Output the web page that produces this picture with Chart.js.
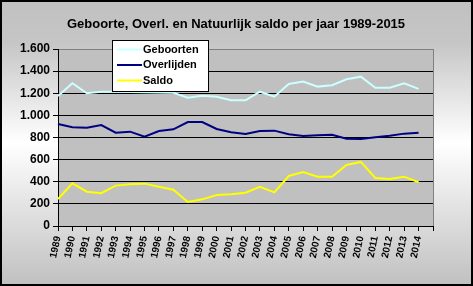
<!DOCTYPE html>
<html>
<head>
<meta charset="utf-8">
<script src="https://cdn.jsdelivr.net/npm/chart.js@4/dist/chart.umd.min.js"></script>
<style>
  html, body { margin: 0; padding: 0; background: #fff; }
  #wrap { width: 473px; height: 286px; position: relative; }
</style>
</head>
<body>
<div id="wrap"><canvas id="myChart"></canvas></div>
<script>
const jaren = ['1989','1990','1991','1992','1993','1994','1995','1996','1997','1998','1999','2000','2001',
               '2002','2003','2004','2005','2006','2007','2008','2009','2010','2011','2012','2013','2014']
const geboorten = [1175, 1290, 1200, 1214, 1214, 1212, 1208, 1206, 1205, 1160, 1178, 1169, 1136,
                   1136, 1214, 1169, 1284, 1305, 1260, 1272, 1326, 1350, 1250, 1250, 1290, 1239]
const overlijden = [922, 892, 889, 913, 844, 853, 807, 859, 874, 940, 940, 877, 847,
                    832, 859, 862, 829, 814, 820, 825, 789, 786, 802, 816, 835, 844]
const saldo = [244, 386, 310, 296, 365, 377, 383, 355, 328, 217, 241, 280, 286,
               301, 355, 304, 452, 488, 446, 446, 552, 579, 434, 425, 446, 395]
const yTickLabels = ['0', '200', '400', '600', '800', '1.000', '1.200', '1.400', '1.600']
const titel = 'Geboorte, Overl. en Natuurlijk saldo per jaar 1989-2015'

const FONT = "'Liberation Sans', Arial, sans-serif"
let myChart;

const excelLook = {
    id: 'excelLook',
    beforeDraw(chart){
        const ctx = chart.ctx;
        const w = chart.width, h = chart.height;
        const a = chart.chartArea;
        ctx.save();
        const g = ctx.createLinearGradient(0, 0, 0, h);
        g.addColorStop(0, '#c0c0c0');
        g.addColorStop(0.15, '#c6c6c6');
        g.addColorStop(0.5, '#ffffff');
        g.addColorStop(1, '#c0c0c0');
        ctx.fillStyle = g;
        ctx.fillRect(0, 0, w, h);
        ctx.strokeStyle = '#000';
        ctx.lineWidth = 2;
        ctx.strokeRect(1, 1, w - 2, h - 2);
        ctx.fillStyle = '#c0c0c0';
        ctx.fillRect(a.left, a.top, a.right - a.left, a.bottom - a.top);
        // titel
        ctx.fillStyle = '#000';
        ctx.font = 'bold 13px ' + FONT;
        ctx.textAlign = 'center';
        ctx.textBaseline = 'middle';
        ctx.fillText(titel, 236, 24);
        ctx.restore();
    },
    beforeDatasetsDraw(chart){
        const ctx = chart.ctx;
        const a = chart.chartArea;
        ctx.save();
        ctx.strokeStyle = '#808080';
        ctx.lineWidth = 1;
        ctx.beginPath();
        ctx.moveTo(a.right + 0.5, a.top);
        ctx.lineTo(a.right + 0.5, a.bottom);
        ctx.stroke();
        ctx.restore();
    },
    afterDatasetsDraw(chart){
        // legenda over de grafiek heen
        const ctx = chart.ctx;
        const x = 112, y = 40, bw = 96, bh = 51;
        ctx.save();
        ctx.fillStyle = '#fff';
        ctx.fillRect(x, y, bw, bh);
        ctx.strokeStyle = '#000';
        ctx.lineWidth = 1;
        ctx.strokeRect(x + 0.5, y + 0.5, bw, bh);
        ctx.font = 'bold 11px ' + FONT;
        ctx.textBaseline = 'middle';
        ctx.textAlign = 'left';
        chart.data.datasets.forEach((ds, i) => {
            const cy = y + 9.5 + i * 15.5;
            ctx.strokeStyle = ds.borderColor;
            ctx.lineWidth = 2;
            ctx.beginPath();
            ctx.moveTo(x + 5, cy);
            ctx.lineTo(x + 30, cy);
            ctx.stroke();
            ctx.fillStyle = '#000';
            ctx.fillText(ds.label, x + 31, cy);
        });
        ctx.restore();
    }
};

function initChart(){
    const ctx = document.getElementById('myChart').getContext('2d');

    myChart = new Chart(ctx, {
    type: 'line',
    data: {
        labels: [...jaren, ''],
        datasets: [{
            label: 'Geboorten',
            data: geboorten,
            borderColor: '#ccffff'
        }, {
            label: 'Overlijden',
            data: overlijden,
            borderColor: '#000080'
        }, {
            label: 'Saldo',
            data: saldo,
            borderColor: '#ffff00'
        }]
    },
    options: {
        responsive: true,
        maintainAspectRatio: false,
        animation: false,
        layout: { padding: { left: 0, top: 49, right: 40, bottom: 0 } },
        elements: {
            line: { borderWidth: 2, tension: 0 },
            point: { radius: 0, hoverRadius: 0 }
        },
        plugins: {
            legend: { display: false },
            title: { display: false },
            tooltip: { enabled: false }
        },
        scales: {
            x: {
                offset: false,
                afterFit: (s) => { s.height = 60; },
                grid: { drawOnChartArea: false, drawTicks: true, tickLength: 5, color: '#000' },
                border: { color: '#000', width: 1 },
                ticks: {
                    autoSkip: false,
                    minRotation: 78,
                    maxRotation: 78,
                    padding: 4,
                    color: '#000',
                    font: { family: FONT, size: 10, weight: 'bold' }
                }
            },
            y: {
                min: 0,
                max: 1600,
                afterFit: (s) => { s.width = 58; },
                grid: {
                    color: (c) => (c.tick && c.tick.value === 1600) ? '#808080' : '#000',
                    tickColor: '#000',
                    tickLength: 5,
                    lineWidth: 1
                },
                border: { color: '#000', width: 1 },
                ticks: {
                    stepSize: 200,
                    padding: 3,
                    color: '#000',
                    font: { family: FONT, size: 12, weight: 'bold' },
                    callback: function(value){
                        return yTickLabels[Math.round(value / 200)];
                    }
                }
            }
        }
    },
    plugins: [excelLook]
    });
}

window.onload = initChart;
</script>
</body>
</html>
